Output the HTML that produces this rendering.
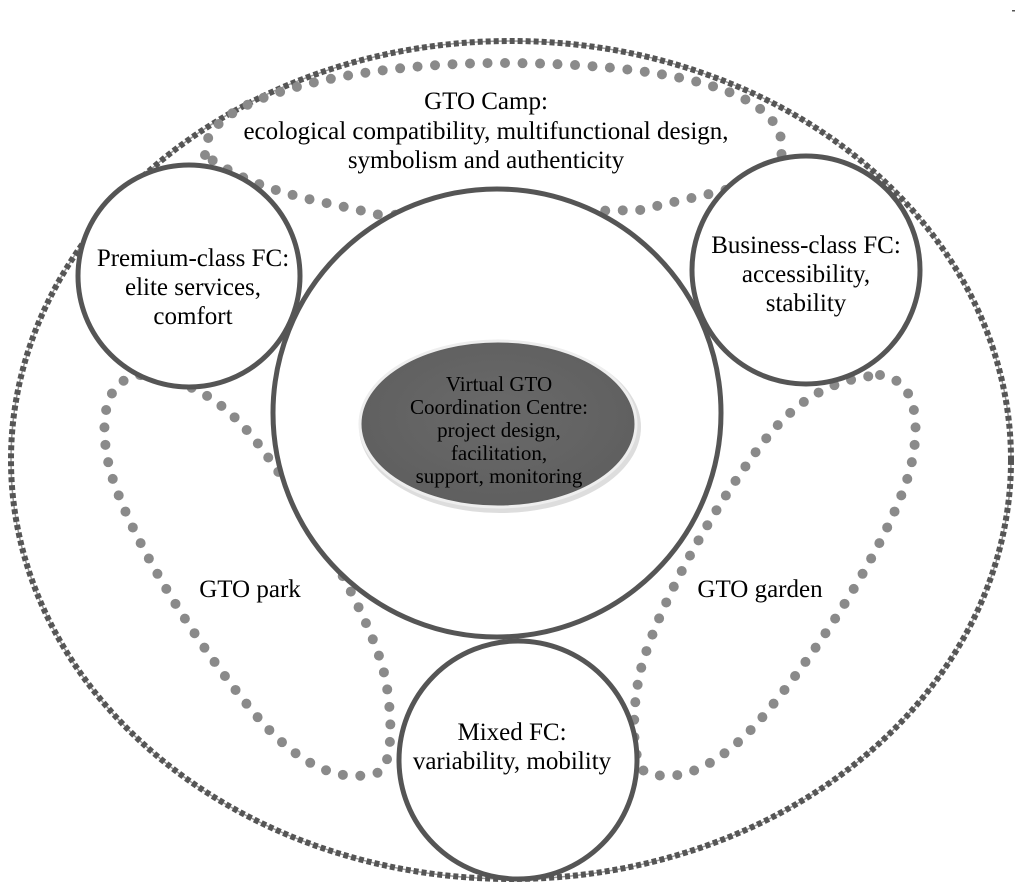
<!DOCTYPE html>
<html><head><meta charset="utf-8"><style>
html,body{margin:0;padding:0;background:#fff;}
svg{display:block;}
text{font-family:"Liberation Serif",serif;fill:#000;text-anchor:middle;}
</style></head><body>
<svg width="1016" height="890" viewBox="0 0 1016 890">
<defs>
<radialGradient id="g" cx="50%" cy="45%" r="60%">
<stop offset="0" stop-color="#6a6a6a"/><stop offset="1" stop-color="#5e5e5e"/>
</radialGradient>
</defs>
<!-- outer ellipse -->
<ellipse cx="511" cy="460" rx="500" ry="419" fill="none" stroke="#999" stroke-width="1.5"/>
<ellipse cx="511" cy="460" rx="500" ry="419" fill="none" stroke="#555" stroke-width="6" stroke-dasharray="5 3"/>
<!-- dotted loops -->
<g fill="none" stroke="#8a8a8a" stroke-width="10" stroke-linecap="round" stroke-dasharray="0 17.5">
<path d="M205,155 C200,95 360,63 500,63 C650,63 785,85 782,150 C780,185 720,190 640,210 L380,215 C320,200 260,195 205,155 Z"/>
<path d="M140,375 C100,380 100,430 110,470 C130,540 200,650 260,720 C300,765 340,785 380,772 C395,760 392,700 382,665 C365,610 320,530 270,460 C235,410 200,380 140,375 Z"/>
<path d="M880,375 C920,380 920,430 910,470 C890,540 820,650 760,720 C720,765 680,785 645,772 C630,760 632,700 642,665 C658,610 700,530 750,460 C785,410 820,380 880,375 Z"/>
</g>
<!-- big circle -->
<circle cx="497" cy="413" r="224" fill="#fff" stroke="#555" stroke-width="5"/>
<!-- small circles -->
<circle cx="189" cy="276" r="111" fill="#fff" stroke="#555" stroke-width="5"/>
<circle cx="806" cy="270" r="114" fill="#fff" stroke="#555" stroke-width="5"/>
<circle cx="518" cy="760" r="119" fill="#fff" stroke="#555" stroke-width="5"/>
<!-- center ellipse -->
<ellipse cx="500" cy="427" rx="141" ry="86" fill="#ddd"/>
<ellipse cx="498" cy="424" rx="138" ry="83" fill="url(#g)" stroke="#eee" stroke-width="3"/>
<!-- texts -->
<g font-size="25">
<text x="486" y="109">GTO Camp:</text>
<text x="486" y="139">ecological compatibility, multifunctional design,</text>
<text x="486" y="168">symbolism and authenticity</text>
<text x="193" y="266">Premium-class FC:</text>
<text x="193" y="295">elite services,</text>
<text x="193" y="324">comfort</text>
<text x="806" y="253">Business-class FC:</text>
<text x="806" y="282">accessibility,</text>
<text x="806" y="311">stability</text>
<text x="250" y="597">GTO park</text>
<text x="760" y="597">GTO garden</text>
<text x="512" y="740">Mixed FC:</text>
<text x="512" y="769">variability, mobility</text>
</g>
<g font-size="21">
<text x="499" y="391">Virtual GTO</text>
<text x="499" y="414">Coordination Centre:</text>
<text x="499" y="437">project design,</text>
<text x="499" y="460">facilitation,</text>
<text x="499" y="483">support, monitoring</text>
</g>
<rect x="1012" y="10" width="3" height="1.5" fill="#555"/>
</svg>
</body></html>
